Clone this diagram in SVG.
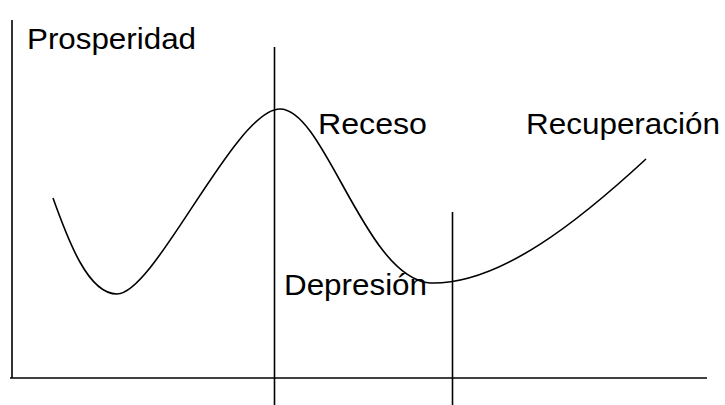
<svg xmlns="http://www.w3.org/2000/svg" width="725" height="405" viewBox="0 0 725 405">
<style>
.ln{stroke:#000;stroke-width:1.6;fill:none}
.t{font-family:"Liberation Sans",Arial,sans-serif;font-size:29px;fill:#000}
</style>
<rect width="725" height="405" fill="#fff"/>
<g id="axes">
<line class="ln" x1="12" y1="20" x2="12" y2="378"/>
<line class="ln" x1="10" y1="378" x2="707" y2="378"/>
</g>
<g id="dividers">
<line class="ln" x1="274.5" y1="47" x2="274.5" y2="405"/>
<line class="ln" x1="452.5" y1="212" x2="452.5" y2="405"/>
</g>
<g id="curve">
<path class="ln" d="M53,198 C68,240 88,294 117,294 C155,294 235,109 280,109 C325,109 365,278 430,283 C500,285 580,220 646,159"/>
</g>
<g id="labels">
<text class="t" x="27" y="49" textLength="169" lengthAdjust="spacingAndGlyphs">Prosperidad</text>
<text class="t" x="318" y="134" textLength="109" lengthAdjust="spacingAndGlyphs">Receso</text>
<text class="t" x="526" y="134" textLength="194" lengthAdjust="spacingAndGlyphs">Recuperación</text>
<text class="t" x="284" y="295" textLength="143" lengthAdjust="spacingAndGlyphs">Depresión</text>
</g>
</svg>
